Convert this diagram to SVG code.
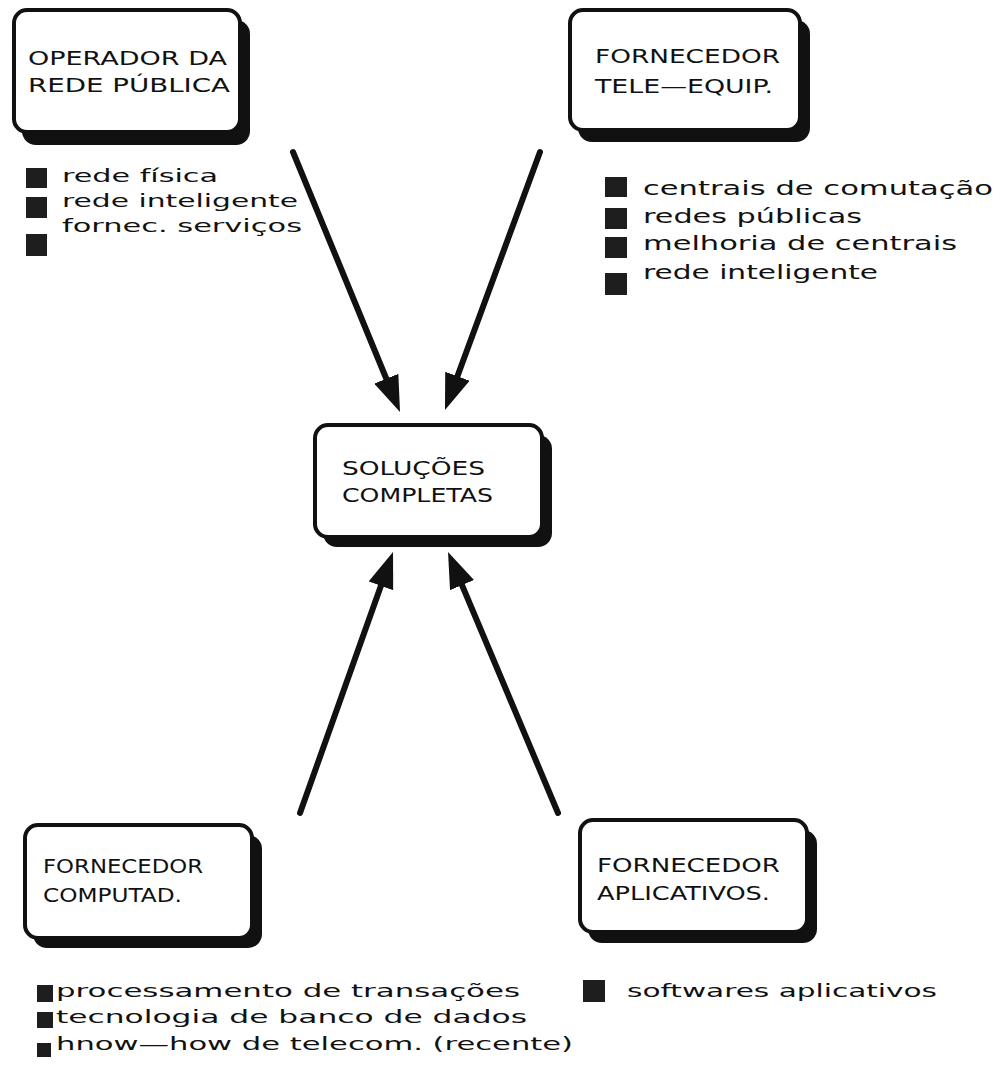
<svg xmlns="http://www.w3.org/2000/svg" width="1000" height="1066" viewBox="0 0 1000 1066">
<defs>
<style>
.shadow{fill:#111;}
.box{fill:#fff;stroke:#111;stroke-width:4;}
.bt{font-family:"DejaVu Sans","Liberation Sans",sans-serif;font-size:20px;fill:#111;}
.lt{font-family:"DejaVu Sans","Liberation Sans",sans-serif;font-size:18px;fill:#111;}
.lt2{font-family:"DejaVu Sans","Liberation Sans",sans-serif;font-size:20px;fill:#111;}
.sq{fill:#1e1e1e;}
.conn{stroke:#111;stroke-width:6;stroke-linecap:round;fill:none;marker-end:url(#ah);}
</style>
<marker id="ah" viewBox="0 0 36 26" refX="16" refY="13" markerWidth="36" markerHeight="26" markerUnits="userSpaceOnUse" orient="auto">
<path d="M0,0 L36,13 L0,26 z" fill="#111"/>
</marker>
</defs>
<rect width="1000" height="1066" fill="#fff"/>

<g id="connectors">
<line class="conn" x1="293" y1="152" x2="392.4" y2="393.5"/>
<line class="conn" x1="540" y1="152" x2="451.9" y2="391.2"/>
<line class="conn" x1="300" y1="813" x2="386.3" y2="570.8"/>
<line class="conn" x1="558" y1="813" x2="455.8" y2="570.4"/>
</g>

<g id="node-operador">
<rect class="shadow" x="22" y="20" width="228" height="125" rx="14"/>
<rect class="box" x="14" y="10" width="226" height="122" rx="13"/>
<text class="bt" x="28" y="65" textLength="199" lengthAdjust="spacingAndGlyphs">OPERADOR DA</text>
<text class="bt" x="28" y="92" textLength="202" lengthAdjust="spacingAndGlyphs">REDE PÚBLICA</text>
</g>

<g id="list-operador">
<rect class="sq" x="26" y="168" width="21" height="20"/>
<rect class="sq" x="26" y="197" width="21" height="21"/>
<rect class="sq" x="26" y="234" width="21" height="22"/>
<text class="lt" x="62" y="182" textLength="156" lengthAdjust="spacingAndGlyphs">rede física</text>
<text class="lt" x="62" y="207" textLength="236" lengthAdjust="spacingAndGlyphs">rede inteligente</text>
<text class="lt" x="62" y="232" textLength="240" lengthAdjust="spacingAndGlyphs">fornec. serviços</text>
</g>

<g id="node-tele">
<rect class="shadow" x="578" y="20" width="232" height="122" rx="14"/>
<rect class="box" x="570" y="10" width="230" height="120" rx="13"/>
<text class="bt" x="595" y="63" textLength="185" lengthAdjust="spacingAndGlyphs">FORNECEDOR</text>
<text class="bt" x="595" y="93" textLength="178" lengthAdjust="spacingAndGlyphs">TELE—EQUIP.</text>
</g>

<g id="list-tele">
<rect class="sq" x="605" y="177" width="22" height="20"/>
<rect class="sq" x="605" y="208" width="22" height="21"/>
<rect class="sq" x="605" y="237" width="22" height="21"/>
<rect class="sq" x="605" y="273" width="22" height="22"/>
<text class="lt2" x="643" y="195" textLength="350" lengthAdjust="spacingAndGlyphs">centrais de comutação</text>
<text class="lt2" x="643" y="223" textLength="219" lengthAdjust="spacingAndGlyphs">redes públicas</text>
<text class="lt2" x="643" y="250" textLength="314" lengthAdjust="spacingAndGlyphs">melhoria de centrais</text>
<text class="lt2" x="643" y="279" textLength="235" lengthAdjust="spacingAndGlyphs">rede inteligente</text>
</g>

<g id="node-solucoes">
<rect class="shadow" x="323" y="435" width="229" height="112" rx="14"/>
<rect class="box" x="315" y="425" width="227" height="112" rx="13"/>
<text class="bt" x="342" y="475" textLength="143" lengthAdjust="spacingAndGlyphs">SOLUÇÕES</text>
<text class="bt" x="342" y="502" textLength="151" lengthAdjust="spacingAndGlyphs">COMPLETAS</text>
</g>

<g id="node-computad">
<rect class="shadow" x="33" y="835" width="229" height="113" rx="14"/>
<rect class="box" x="25" y="825" width="227" height="113" rx="13"/>
<text class="bt" x="43" y="873" textLength="160" lengthAdjust="spacingAndGlyphs">FORNECEDOR</text>
<text class="bt" x="43" y="902" textLength="139" lengthAdjust="spacingAndGlyphs">COMPUTAD.</text>
</g>

<g id="list-computad">
<rect class="sq" x="37" y="985" width="16" height="17"/>
<rect class="sq" x="37" y="1012" width="16" height="16"/>
<rect class="sq" x="37" y="1043" width="14" height="14"/>
<text class="lt" x="56" y="997" textLength="464" lengthAdjust="spacingAndGlyphs">processamento de transações</text>
<text class="lt" x="56" y="1023" textLength="471" lengthAdjust="spacingAndGlyphs">tecnologia de banco de dados</text>
<text class="lt" x="56" y="1050" textLength="517" lengthAdjust="spacingAndGlyphs">hnow—how de telecom. (recente)</text>
</g>

<g id="node-aplicativos">
<rect class="shadow" x="588" y="830" width="229" height="113" rx="14"/>
<rect class="box" x="580" y="820" width="227" height="112" rx="13"/>
<text class="bt" x="597" y="872" textLength="183" lengthAdjust="spacingAndGlyphs">FORNECEDOR</text>
<text class="bt" x="597" y="900" textLength="173" lengthAdjust="spacingAndGlyphs">APLICATIVOS.</text>
</g>

<g id="list-aplicativos">
<rect class="sq" x="583" y="980" width="22" height="22"/>
<text class="lt" x="627" y="997" textLength="310" lengthAdjust="spacingAndGlyphs">softwares aplicativos</text>
</g>
</svg>
